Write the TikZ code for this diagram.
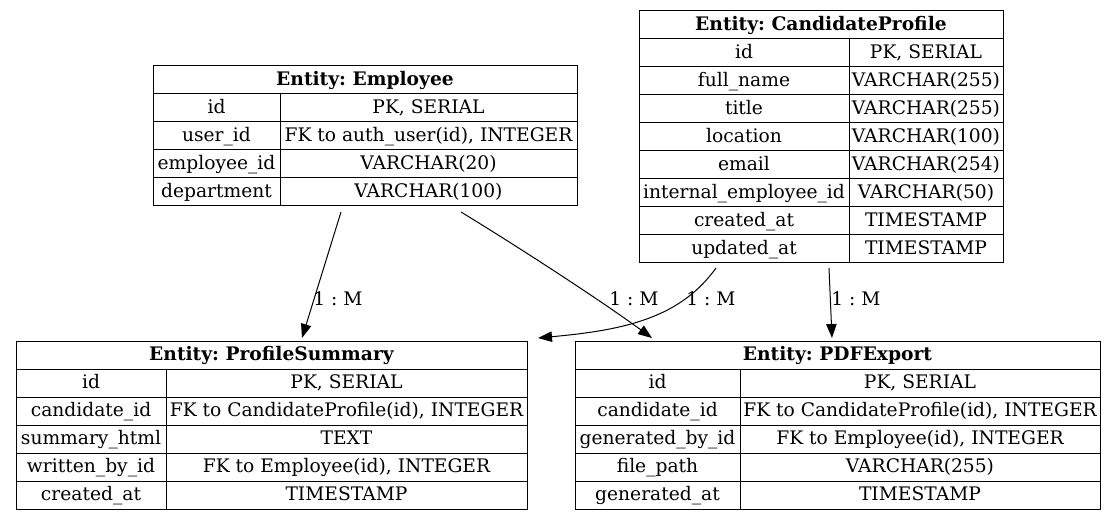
\documentclass[tikz,border=0pt]{standalone}
\usepackage{fontspec}
\setmainfont{DejaVu Serif}
\usetikzlibrary{arrows.meta}
\frenchspacing
\newcommand\tcell[5]{%
  \pgfmathsetmacro\cw{(#3-#2)*0.75}%
  \pgfmathsetmacro\cx{(#2+#3)/2}%
  \pgfmathsetmacro\cy{#4+14}%
  \node[cell, minimum width=\cw pt] (#1) at (\cx,\cy) {#5};}
% name prefix, xL, xS, xR, ytop, left, right
\newcommand\trow[7]{%
  \tcell{#1a}{#2}{#3}{#5}{#6}%
  \tcell{#1b}{#3}{#4}{#5}{#7}}
\begin{document}
\begin{tikzpicture}[x=0.75pt,y=-0.75pt,
  cell/.style={draw, line width=0.75pt, inner xsep=0pt, inner ysep=0pt, minimum height=21pt,
    text height=10.5pt, text depth=2.5pt, font=\fontsize{14}{16}\selectfont},
  edge/.style={line width=0.75pt, -{Triangle[length=10.5pt,width=7.8pt]}},
  lbl/.style={font=\fontsize{14}{16}\selectfont, inner sep=0pt, text height=10.5pt, text depth=2.5pt}]
\useasboundingbox (0,0) rectangle (1117,520);

% Employee
\tcell{emph}{153}{577}{66}{\bfseries Entity: Employee}
\trow{emp1}{153}{280}{577}{94}{id}{PK, SERIAL}
\trow{emp2}{153}{280}{577}{122}{user\_id}{FK to auth\_user(id), INTEGER}
\trow{emp3}{153}{280}{577}{150}{employee\_id}{VARCHAR(20)}
\trow{emp4}{153}{280}{577}{178}{department}{VARCHAR(100)}

% CandidateProfile
\tcell{cph}{639}{1003}{11}{\bfseries Entity: CandidateProfile}
\trow{cp1}{639}{849}{1003}{39}{id}{PK, SERIAL}
\trow{cp2}{639}{849}{1003}{67}{full\_name}{VARCHAR(255)}
\trow{cp3}{639}{849}{1003}{95}{title}{VARCHAR(255)}
\trow{cp4}{639}{849}{1003}{123}{location}{VARCHAR(100)}
\trow{cp5}{639}{849}{1003}{151}{email}{VARCHAR(254)}
\trow{cp6}{639}{849}{1003}{179}{internal\_employee\_id}{VARCHAR(50)}
\trow{cp7}{639}{849}{1003}{207}{created\_at}{TIMESTAMP}
\trow{cp8}{639}{849}{1003}{235}{updated\_at}{TIMESTAMP}

% ProfileSummary
\tcell{psh}{16}{527}{341}{\bfseries Entity: ProfileSummary}
\trow{ps1}{16}{166}{527}{369}{id}{PK, SERIAL}
\trow{ps2}{16}{166}{527}{397}{candidate\_id}{FK to CandidateProfile(id), INTEGER}
\trow{ps3}{16}{166}{527}{425}{summary\_html}{TEXT}
\trow{ps4}{16}{166}{527}{453}{written\_by\_id}{FK to Employee(id), INTEGER}
\trow{ps5}{16}{166}{527}{481}{created\_at}{TIMESTAMP}

% PDFExport
\tcell{pdh}{575}{1100}{341}{\bfseries Entity: PDFExport}
\trow{pd1}{575}{740}{1100}{369}{id}{PK, SERIAL}
\trow{pd2}{575}{740}{1100}{397}{candidate\_id}{FK to CandidateProfile(id), INTEGER}
\trow{pd3}{575}{740}{1100}{425}{generated\_by\_id}{FK to Employee(id), INTEGER}
\trow{pd4}{575}{740}{1100}{453}{file\_path}{VARCHAR(255)}
\trow{pd5}{575}{740}{1100}{481}{generated\_at}{TIMESTAMP}

% edge end points
\coordinate (e1s) at (341,212);
\coordinate (e1t) at (302,338);
\coordinate (e2s) at (461,212);
\coordinate (e2t) at (652,338);
\coordinate (e3s) at (716,268);
\coordinate (e3t) at (538,338);
\coordinate (e4s) at (829,268);
\coordinate (e4t) at (832,338);

\draw[edge] (e1s) -- (e1t);
\draw[edge] (e2s) .. controls (520,248) and (600,300) .. (e2t);
\draw[edge] (e3s) .. controls (680,318) and (625,330) .. (e3t);
\draw[edge] (e4s) -- (e4t);

\node[lbl] (l1) at (338,300) {1 : M};
\node[lbl] (l2) at (634,300) {1 : M};
\node[lbl] (l3) at (711,300) {1 : M};
\node[lbl] (l4) at (856,300) {1 : M};
\end{tikzpicture}
\end{document}
